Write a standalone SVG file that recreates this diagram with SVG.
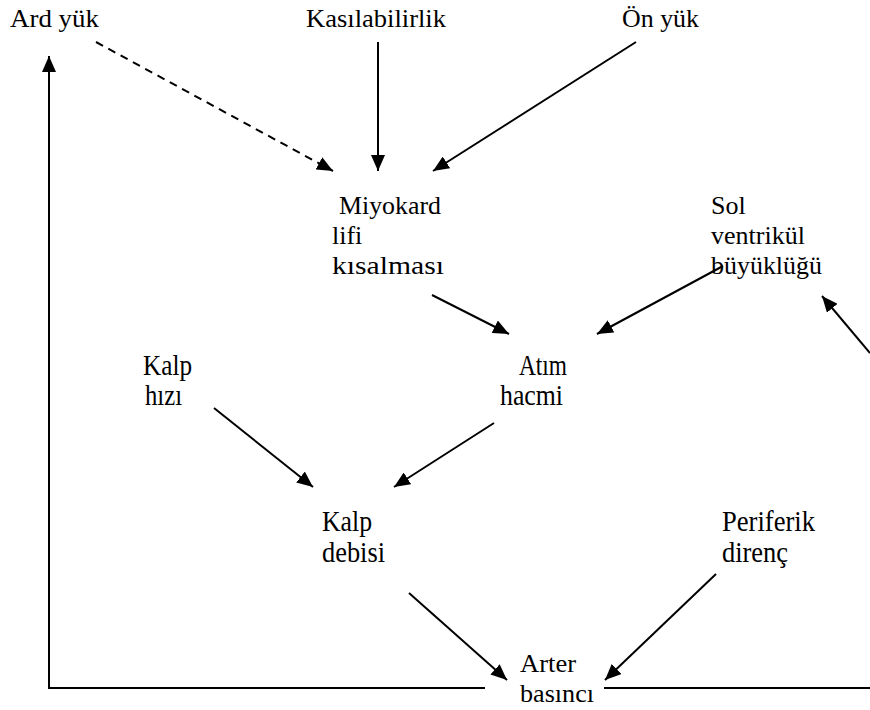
<svg xmlns="http://www.w3.org/2000/svg" width="870" height="710" viewBox="0 0 870 710">
<style>
text{font-family:"Liberation Serif","Times New Roman",serif;font-size:26px;fill:#000}
.c{stroke:#000;stroke-width:2;fill:none}
.d{stroke-dasharray:8 6}
</style>
<defs>
<marker id="ah" viewBox="0 0 16 14" refX="16" refY="7" markerWidth="16" markerHeight="14" markerUnits="userSpaceOnUse" orient="auto">
<path d="M0,0 L16,7 L0,14 z" fill="#000"/>
</marker>
</defs>
<rect width="870" height="710" fill="#fff"/>
<g id="ard-yuk"><text x="10" y="27" textLength="89" lengthAdjust="spacingAndGlyphs">Ard yük</text></g>
<g id="kasilabilirlik"><text x="306" y="27" textLength="140" lengthAdjust="spacingAndGlyphs">Kasılabilirlik</text></g>
<g id="on-yuk"><text x="622" y="27" textLength="77" lengthAdjust="spacingAndGlyphs">Ön yük</text></g>
<g id="miyokard">
<text x="339" y="214" textLength="102" lengthAdjust="spacingAndGlyphs">Miyokard</text>
<text x="332" y="244">lifi</text>
<text x="332" y="274" textLength="112" lengthAdjust="spacingAndGlyphs">kısalması</text>
</g>
<g id="sol-ventrikul">
<text x="711" y="214">Sol</text>
<text x="711" y="244" textLength="94" lengthAdjust="spacingAndGlyphs">ventrikül</text>
<text x="711" y="274" textLength="111" lengthAdjust="spacingAndGlyphs">büyüklüğü</text>
</g>
<g id="kalp-hizi">
<text transform="translate(143,375) scale(1,1.12)" textLength="49" lengthAdjust="spacingAndGlyphs">Kalp</text>
<text transform="translate(145,405) scale(1,1.12)" textLength="37" lengthAdjust="spacingAndGlyphs">hızı</text>
</g>
<g id="atim-hacmi">
<text transform="translate(519,375) scale(1,1.12)" textLength="48" lengthAdjust="spacingAndGlyphs">Atım</text>
<text transform="translate(500,405) scale(1,1.12)" textLength="63" lengthAdjust="spacingAndGlyphs">hacmi</text>
</g>
<g id="kalp-debisi">
<text transform="translate(322,531) scale(1,1.12)" textLength="50" lengthAdjust="spacingAndGlyphs">Kalp</text>
<text transform="translate(322,562) scale(1,1.12)" textLength="63" lengthAdjust="spacingAndGlyphs">debisi</text>
</g>
<g id="periferik-direnc">
<text transform="translate(722,531) scale(1,1.12)" textLength="93" lengthAdjust="spacingAndGlyphs">Periferik</text>
<text transform="translate(722,562) scale(1,1.12)" textLength="66" lengthAdjust="spacingAndGlyphs">direnç</text>
</g>
<g id="arter-basinci">
<text x="520" y="672" textLength="56" lengthAdjust="spacingAndGlyphs">Arter</text>
<text x="520" y="702" textLength="74" lengthAdjust="spacingAndGlyphs">basıncı</text>
</g>
<g id="connectors">
<line class="c d" x1="96" y1="42" x2="333" y2="171" marker-end="url(#ah)"/>
<line class="c" x1="378" y1="42" x2="378" y2="171" marker-end="url(#ah)"/>
<line class="c" x1="636" y1="42" x2="433" y2="171" marker-end="url(#ah)"/>
<line class="c" x1="432" y1="295" x2="509" y2="334" marker-end="url(#ah)"/>
<line class="c" x1="723" y1="266" x2="597" y2="334" marker-end="url(#ah)"/>
<line class="c" x1="870" y1="353" x2="822" y2="296" marker-end="url(#ah)"/>
<line class="c" x1="214" y1="408" x2="313" y2="487" marker-end="url(#ah)"/>
<line class="c" x1="494" y1="423" x2="394" y2="487" marker-end="url(#ah)"/>
<line class="c" x1="409" y1="593" x2="507" y2="680" marker-end="url(#ah)"/>
<line class="c" x1="716" y1="574" x2="605" y2="680" marker-end="url(#ah)"/>
<polyline class="c" points="485,688 49,688 49,56" marker-end="url(#ah)"/>
<line class="c" x1="604" y1="688" x2="870" y2="688"/>
</g>
</svg>
